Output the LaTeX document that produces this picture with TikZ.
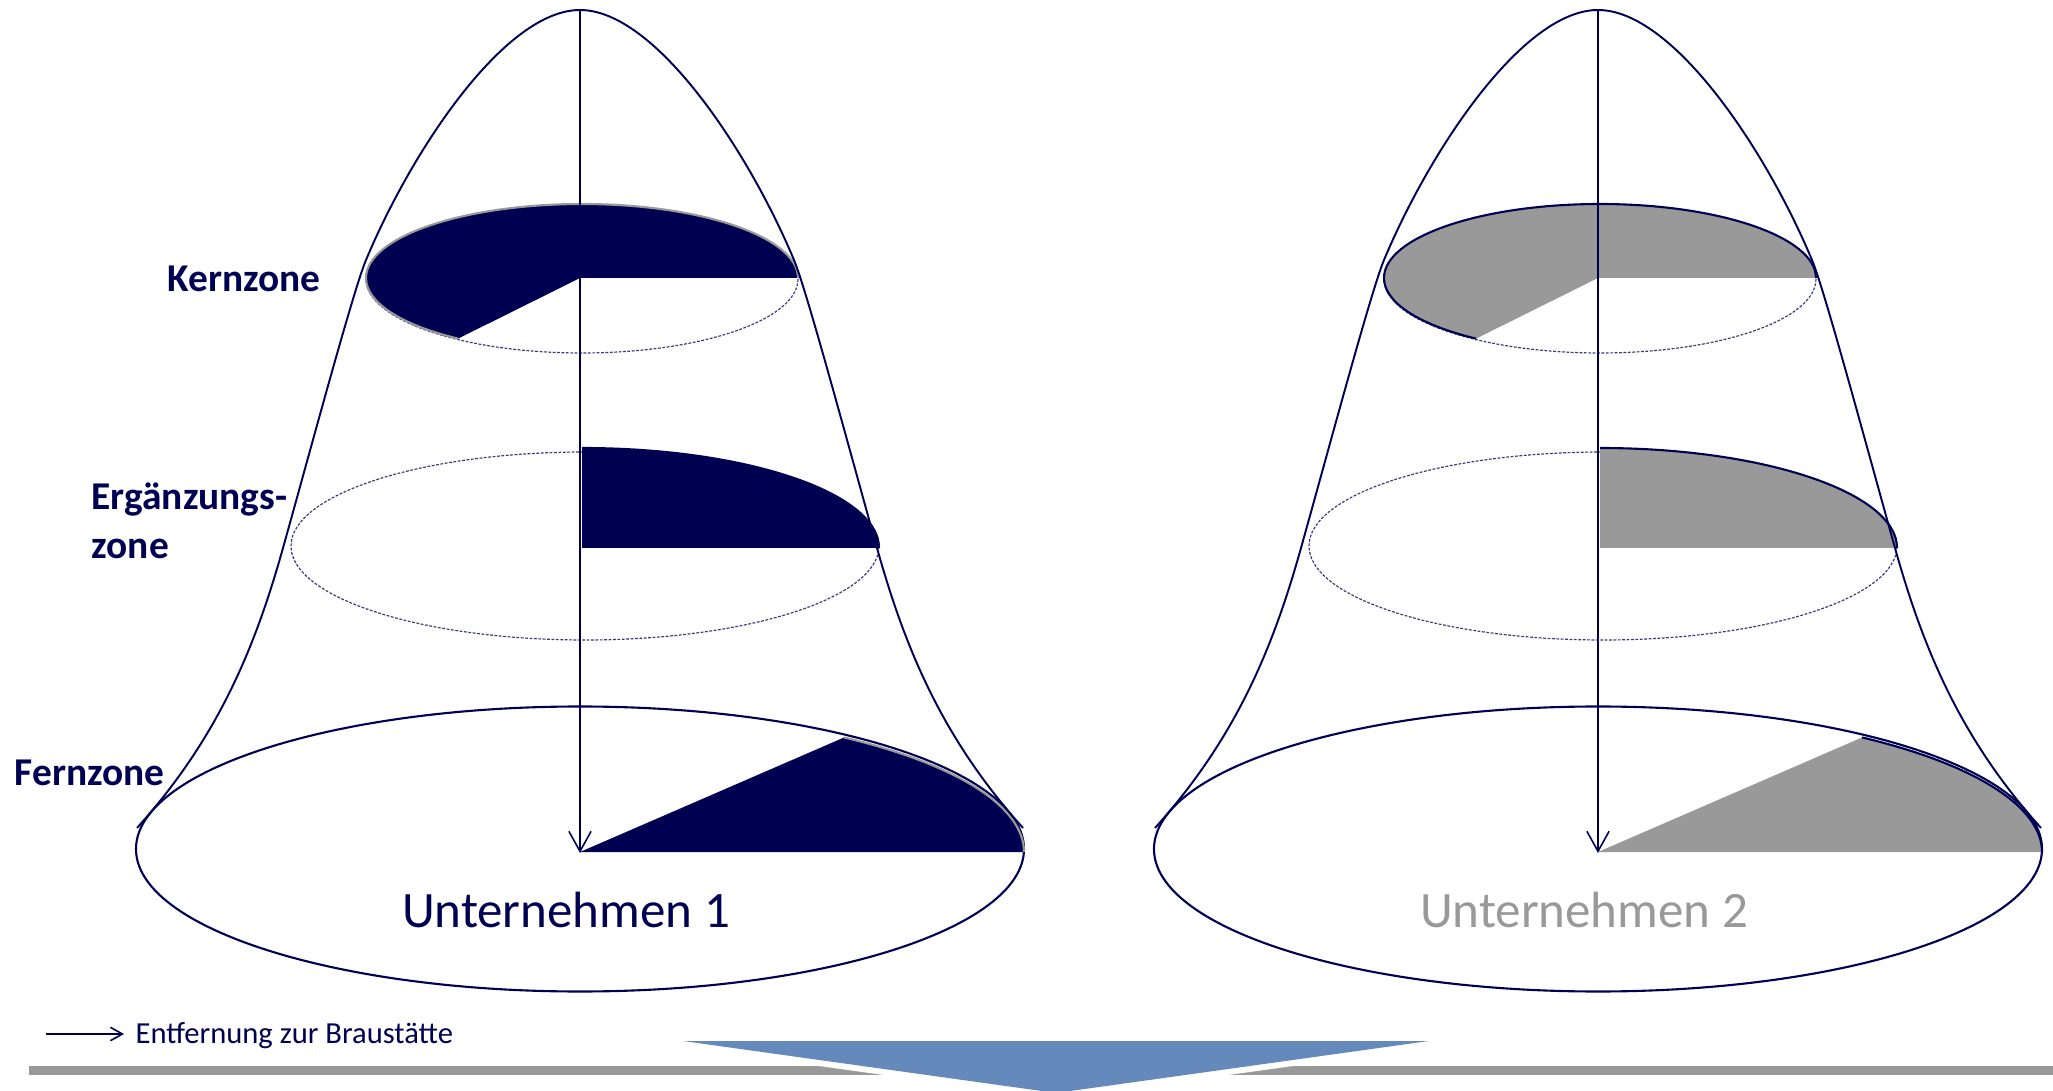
\documentclass[tikz,border=0pt]{standalone}
\usepackage{fontspec}
\setmainfont{Carlito}
\usetikzlibrary{arrows.meta}
\definecolor{navy}{RGB}{0,0,82}
\definecolor{midgray}{RGB}{153,153,153}
\definecolor{triblue}{RGB}{102,137,188}
\definecolor{dotc}{RGB}{55,55,130}
\tikzset{
  bellline/.style={draw=navy, line width=0.55pt},
  baseell/.style={draw=navy, line width=0.6pt},
  arcline/.style={line width=0.6pt},
  dotline/.style={draw=dotc, line width=0.33pt, dash pattern=on 0.8pt off 0.45pt},
  axisarrow/.style={draw=navy, line width=0.45pt, -{Straight Barb[length=5.7pt,width=6.3pt]}},
  legarrow/.style={draw=navy, line width=0.45pt, -{Straight Barb[length=3.4pt,width=3.8pt]}},
  zonelabel/.style={text=navy, inner sep=0pt, font=\bfseries\fontsize{11.2}{13.7}\selectfont},
  unlabel/.style={anchor=base, inner sep=0pt, font=\fontsize{14.5}{17}\selectfont},
}
\newcommand\drawcompany[6]{%
  \begin{scope}[shift={(#2,0)}]
    \draw[dotline] (582,279) ellipse [x radius=216, y radius=74];
    \draw[dotline] (585,546) ellipse [x radius=294, y radius=94];
    \draw[baseell] (580,849) ellipse [x radius=444, y radius=142.5];
    % Kernzone sector
    \fill[#3] (580,278) -- (798,278) arc[start angle=0, end angle=-235, x radius=216, y radius=74] -- cycle;
    \draw[arcline, #4] (798,278) arc[start angle=0, end angle=-235, x radius=216, y radius=74];
    % Ergaenzungszone sector
    \fill[#3] (582,548) -- (879,548) arc[start angle=0, end angle=-90, x radius=297, y radius=100] -- cycle;
    \draw[arcline, #6] (879,548) arc[start angle=0, end angle=-90, x radius=297, y radius=100];
    % Fernzone sector
    \fill[#3] (580,852) -- (1024,852) arc[start angle=0, end angle=-53.5, x radius=444, y radius=142.5] -- cycle;
    \draw[arcline, #4] (1024,852) arc[start angle=0, end angle=-53.5, x radius=444, y radius=142.5];
    % bell outline
    \draw[bellline] (137,828) .. controls (218,738) and (255,648) .. (283,548)
      .. controls (311,448) and (353.4,290) .. (366,260)
      .. controls (412,150) and (505,10) .. (580,10)
      .. controls (655,10) and (748,150) .. (794,260)
      .. controls (806.6,290) and (849,448) .. (877,548)
      .. controls (905,648) and (942,738) .. (1023,828);
    \coordinate (apex#1) at (580,10);
    \coordinate (tip#1) at (580,853);
    \draw[axisarrow] (apex#1) -- (tip#1);
    \node[unlabel, text=#5] (u#1) at (566,927) {Unternehmen #1};
  \end{scope}}

\begin{document}
\begin{tikzpicture}[x=0.01cm, y=-0.01cm]
  \useasboundingbox (0,0) rectangle (2053,1091);
  \clip (0,0) rectangle (2053,1091);
  \fill[white] (0,0) rectangle (2053,1091);

  \drawcompany{1}{0}{navy}{midgray}{navy}{navy}
  \drawcompany{2}{1018}{midgray}{navy}{midgray}{navy}

  % zone labels
  \node[zonelabel, anchor=base east] (kern) at (321,292) {Kernzone};
  \node[zonelabel, anchor=base west, align=left] (erg) at (91,558) {Ergänzungs-\\zone};
  \node[zonelabel, anchor=base west] (fern) at (14,785) {Fernzone};

  % legend
  \coordinate (legA) at (46,1034);
  \coordinate (legB) at (124,1034);
  \draw[legarrow] (legA) -- (legB);
  \node[anchor=base west, inner sep=0pt, text=navy, font=\fontsize{8.7}{10}\selectfont] (leg) at (135,1043) {Entfernung zur Braustätte};

  % bottom bar and triangle
  \fill[midgray] (29,1066) rectangle (2053,1075);
  \coordinate (triL) at (683,1041);
  \coordinate (triR) at (1429,1041);
  \coordinate (triB) at (1056,1093);
  \draw[white, line width=3.4pt, line join=miter] (triL) -- (triR) -- (triB) -- cycle;
  \fill[triblue] (triL) -- (triR) -- (triB) -- cycle;
\end{tikzpicture}
\end{document}
